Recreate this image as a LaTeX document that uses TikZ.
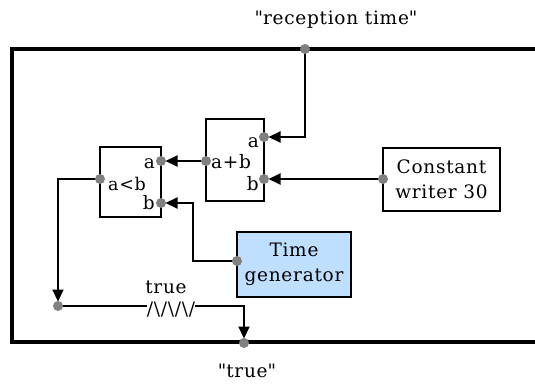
\documentclass[tikz,border=0pt]{standalone}
\usepackage{fontspec}
\setmainfont{DejaVu Serif}[LetterSpace=4]
\usepackage{tikz}
\usetikzlibrary{arrows.meta,positioning,calc}

\definecolor{portgray}{RGB}{128,128,128}
\definecolor{genblue}{RGB}{191,223,255}

\begin{document}
\begin{tikzpicture}[
    x=1pt, y=-1pt,
    font=\rmfamily\fontsize{18.5}{25}\selectfont,
    block/.style={rectangle, draw=black, line width=2pt, fill=white, inner sep=0pt, align=center},
    port/.style={circle, fill=portgray, inner sep=0pt, minimum size=10pt},
    wire/.style={line width=2pt, -{Triangle[length=12pt, width=11pt]}, shorten >=4.5pt},
    plain/.style={line width=2pt},
    portlabel/.style={inner sep=0pt},
]
\path[use as bounding box, clip] (0,0) rectangle (535,385);

% Outer frame
\draw[line width=4pt] (560,49) -- (12,49) -- (12,342) -- (560,342);

% Blocks
\node[block, minimum width=61pt, minimum height=70pt] (less) at (130.5,182) {};
\node[block, minimum width=58pt, minimum height=82pt] (sum) at (235,160) {};
\node[block, minimum width=117pt, minimum height=63pt] (const) at (441.5,179.5) {Constant\\writer 30};
\node[block, fill=genblue, minimum width=114pt, minimum height=65pt] (timegen) at (294,264.5) {Time\\generator};

% Block texts
\node[portlabel, anchor=base east] (sumAlbl) at (259,147) {a};
\node[portlabel, anchor=base east] (sumBlbl) at (259,190) {b};
\node[portlabel, anchor=base west] (sumlbl) at (211,168) {a+b};
\node[portlabel, anchor=base east] (lessAlbl) at (155,168) {a};
\node[portlabel, anchor=base east] (lessBlbl) at (155,209) {b};
\node[portlabel, anchor=base west, font=\rmfamily\fontsize{17.5}{20}\selectfont] (lesslbl) at (108,190) {a<b};

% Outside labels
\node (recvlbl) at (336,20) {\textquotedbl reception time\textquotedbl};
\node (truelbl) at (247,371) {\textquotedbl true\textquotedbl};

% Wire value
\node[inner sep=0pt, font=\rmfamily\fontsize{18.5}{20}\selectfont] (zig) at (171,310) {/\textbackslash/\textbackslash/\textbackslash/};
\node[inner sep=0pt, anchor=base] (zigtext) at (166,293) {true};

% Connectors
\coordinate (junc) at (58,306);
\draw[wire] (305,49) coordinate (recv) |- (264,137) coordinate (sumA);
\draw[wire] (383,179) coordinate (constOut) -- (264,179) coordinate (sumB);
\draw[wire] (206,161) coordinate (sumOut) -- (161,161) coordinate (ltA);
\draw[wire] (237,261) coordinate (timeOut) -| (193,203) -- (161,203) coordinate (ltB);
\draw[wire] (100,179) coordinate (ltOut) -| (junc);
\draw[plain] (junc) -- (zig.west |- junc);
\draw[wire] (zig.east |- junc) -| (244,343) coordinate (trueOut);

% Ports
\foreach \p in {recv,sumA,sumB,sumOut,ltA,ltB,ltOut,constOut,timeOut,junc,trueOut}
    \node[port] at (\p) {};

\end{tikzpicture}
\end{document}
